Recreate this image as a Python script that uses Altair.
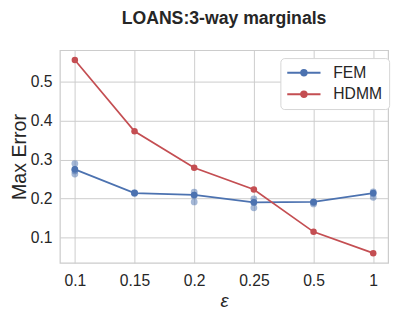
import altair as alt
import pandas as pd

eps_labels = ["0.1", "0.15", "0.2", "0.25", "0.5", "1"]
fem_mean = [0.275, 0.214, 0.209, 0.190, 0.191, 0.214]
hdmm = [0.557, 0.373, 0.279, 0.223, 0.114, 0.059]
fem_runs = [
    [0.290, 0.275, 0.271, 0.263],
    [0.215, 0.214, 0.213],
    [0.216, 0.207, 0.191],
    [0.199, 0.189, 0.176],
    [0.191, 0.186, 0.189],
    [0.217, 0.212, 0.203],
]
series_names = ["FEM", "HDMM"]
series_colors = ["#4c72b0", "#c44e52"]
y_ticks = [0.1, 0.2, 0.3, 0.4, 0.5]

lines = pd.DataFrame({
    "eps": eps_labels * 2,
    "err": fem_mean + hdmm,
    "series": [series_names[0]] * len(eps_labels) + [series_names[1]] * len(eps_labels),
})
runs = pd.DataFrame([{"eps": e, "err": v} for e, vs in zip(eps_labels, fem_runs) for v in vs])

FONT = "Liberation Sans"
TXT = "#262626"

x_enc = alt.X("eps:O", sort=eps_labels,
              scale=alt.Scale(type="point", padding=0.25),
              axis=alt.Axis(title="ε", labelAngle=0, titleFontStyle="italic",
                            titleFontSize=19, titlePadding=4, labelPadding=10))
y_enc = alt.Y("err:Q", scale=alt.Scale(domain=[0.034, 0.582], nice=False, zero=False),
              axis=alt.Axis(title="Max Error", values=y_ticks, format=".1f",
                            titleFontSize=20, titlePadding=1, labelPadding=8))

sym_path = "M-1.14,0L3.71,0M1.686,0A0.4,0.4,0,1,1,0.886,0A0.4,0.4,0,1,1,1.686,0"

legend = alt.Legend(title=None, orient="none", legendX=225, legendY=8,
                    symbolType=sym_path, symbolSize=196, symbolStrokeWidth=2,
                    labelFontSize=16, labelFont=FONT, labelColor=TXT, labelOffset=31,
                    padding=7, rowPadding=6, fillColor="white", strokeColor="#d5d5d5",
                    cornerRadius=4)

runs_layer = alt.Chart(runs).mark_circle(size=48, opacity=0.5, color=series_colors[0]).encode(
    x=x_enc, y=y_enc)

line_layer = alt.Chart(lines).mark_line(strokeWidth=1.75).encode(
    x=x_enc, y=y_enc,
    stroke=alt.Stroke("series:N", scale=alt.Scale(domain=series_names, range=series_colors),
                      legend=legend))

pt_layer = alt.Chart(lines).mark_circle(size=44, opacity=1).encode(
    x=x_enc, y=y_enc,
    fill=alt.Fill("series:N", scale=alt.Scale(domain=series_names, range=series_colors),
                  legend=None))

chart = alt.layer(runs_layer, line_layer, pt_layer).properties(
    width=335, height=217,
    title=alt.Title("LOANS:3-way marginals", fontSize=18, fontWeight="bold",
                    font=FONT, color=TXT, offset=23, anchor="middle"),
    autosize=alt.AutoSizeParams(type="none"),
    padding={"left": 53, "top": 40, "right": 7, "bottom": 46},
).configure_view(stroke="#cccccc", strokeWidth=1.25).configure_axis(
    domain=False, ticks=False, grid=True, gridColor="#cccccc", gridWidth=1,
    labelFont=FONT, labelFontSize=16, labelColor=TXT,
    titleFont=FONT, titleColor=TXT, titleFontWeight="normal",
)

chart.save("out.html", embed_options={"renderer": "svg", "actions": False})
